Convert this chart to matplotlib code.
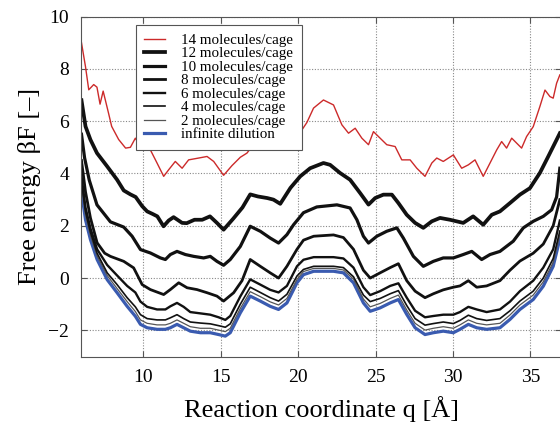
import matplotlib
matplotlib.use("Agg")
import matplotlib.pyplot as plt

plt.rcParams['font.family'] = ['Liberation Serif', 'DejaVu Serif']

# 14 molecules/cage (red)
x14 = [6.0, 6.26, 6.47, 6.79, 7.0, 7.2, 7.4, 7.75, 7.95, 8.4, 8.85, 9.16, 9.48, 9.92, 10.34, 10.88,
       11.31, 11.63, 12.06, 12.5, 12.92, 13.57, 14.11, 14.54, 15.18, 15.72, 16.26, 16.69, 17.01,
       17.44, 17.98, 18.41, 18.84, 19.27, 19.81, 20.13, 20.56, 20.99, 21.63, 22.28, 22.82, 23.25,
       23.68, 24.11, 24.54, 24.86, 25.29, 25.72, 26.26, 26.69, 27.23, 27.66, 28.19, 28.63, 28.95,
       29.37, 30.02, 30.56, 30.99, 31.42, 31.95, 32.39, 32.82, 33.14, 33.46, 33.79, 34.11, 34.43,
       34.75, 35.18, 35.61, 35.94, 36.26, 36.47, 36.69, 36.9]
y14 = [9.0, 8.08, 7.2, 7.4, 7.3, 6.65, 7.15, 6.3, 5.8, 5.3, 4.97, 5.0, 5.35, 4.9, 5.03, 4.4,
       3.89, 4.14, 4.46, 4.2, 4.52, 4.59, 4.65, 4.46, 3.93, 4.3, 4.62, 4.78, 5.03,
       5.16, 5.22, 5.1, 5.03, 5.22, 5.41, 5.57, 5.95, 6.5, 6.81, 6.62, 5.86, 5.54,
       5.73, 5.35, 5.1, 5.6, 5.35, 5.1, 5.03, 4.52, 4.52, 4.2, 3.89, 4.4, 4.59,
       4.46, 4.71, 4.2, 4.33, 4.52, 3.89, 4.4, 4.9, 5.22, 4.97, 5.35, 5.16, 4.97,
       5.41, 5.79, 6.56, 7.19, 6.94, 6.88, 7.45, 7.77]

# 12 molecules/cage
x12 = [6.0, 6.26, 6.58, 7.0, 7.66, 8.3, 8.73, 9.16, 9.5, 9.92, 10.24, 10.6, 10.9, 11.3, 11.63,
       11.95, 12.5, 12.8, 13.3, 13.8, 14.3, 14.75, 15.18, 15.8, 16.4, 16.9, 17.4, 18.0, 18.4,
       18.84, 19.5, 20.13, 20.77, 21.63, 22.06, 22.7, 23.35, 24.0, 24.54, 24.97, 25.5, 26.05,
       26.47, 27.01, 27.55, 28.08, 28.63, 29.16, 29.8, 30.66, 31.3, 31.95, 32.5, 33.03, 33.68,
       34.32, 34.97, 35.61, 36.15, 36.69, 36.9]
y12 = [6.8, 5.8, 5.29, 4.78, 4.27, 3.76, 3.35, 3.2, 3.1, 2.75, 2.55, 2.45, 2.36, 1.98, 2.2,
       2.33, 2.11, 2.1, 2.23, 2.23, 2.36, 2.11, 1.85, 2.27, 2.7, 3.2, 3.12, 3.06, 3.0,
       2.84, 3.45, 3.89, 4.2, 4.4, 4.33, 4.02, 3.76, 3.25, 2.81, 3.06, 3.19, 3.19,
       2.87, 2.42, 2.11, 1.92, 2.17, 2.3, 2.23, 2.11, 2.36, 2.04, 2.42, 2.55, 2.87,
       3.19, 3.44, 4.02, 4.65, 5.29, 5.54]

# 10 molecules/cage
x10 = [6.0, 6.2, 6.5, 7.0, 7.87, 8.73, 9.27, 9.81, 10.45, 11.1, 11.42, 11.74, 12.17, 12.71,
       13.25, 13.89, 14.32, 14.75, 15.18, 15.61, 16.26, 16.9, 17.55, 18.19, 18.73, 19.27, 19.7,
       20.34, 21.2, 22.5, 23.35, 23.79, 24.21, 24.54, 25.08, 25.72, 26.37, 26.79, 27.44, 28.08,
       28.73, 29.37, 30.02, 30.66, 31.21, 31.85, 32.39, 33.03, 33.89, 34.54, 35.18, 35.83,
       36.37, 36.69, 36.9]
y10 = [5.5, 4.6, 3.75, 2.8, 2.15, 1.95, 1.6, 1.09, 0.96, 0.77, 0.71, 0.9, 1.02, 0.9,
       0.83, 0.77, 0.83, 0.64, 0.49, 0.71, 1.21, 1.98, 1.79, 1.53, 1.34, 1.66, 2.04,
       2.5, 2.72, 2.8, 2.68, 2.23, 1.6, 1.34, 1.6, 1.79, 1.92, 1.53, 0.83, 0.45,
       0.64, 0.77, 0.77, 0.9, 1.02, 0.71, 0.9, 1.02, 1.41, 1.92, 2.17, 2.36,
       2.61, 3.1, 4.2]

# 8 molecules/cage
x8 = [6.0, 6.26, 6.58, 7.01, 7.5, 7.87, 8.73, 9.37, 9.92, 10.45, 11.31, 11.74, 12.28, 12.82,
      13.46, 14.11, 14.75, 15.18, 15.83, 16.37, 16.9, 17.55, 18.19, 18.73, 19.27, 19.92, 20.34,
      21.0, 22.28, 22.92, 23.57, 24.21, 24.65, 25.29, 25.94, 26.47, 27.01, 27.55, 28.19, 28.73,
      29.37, 30.02, 30.45, 30.99, 31.53, 32.17, 33.03, 33.68, 34.32, 35.18, 35.83, 36.47, 36.9]
y8 = [4.5, 3.3, 2.3, 1.35, 0.95, 0.83, 0.64, 0.39, -0.25, -0.44, -0.63, -0.44, -0.18, -0.37,
      -0.44, -0.56, -0.69, -0.88, -0.56, -0.1, 0.71, 0.45, 0.2, 0.0, 0.45, 1.1, 1.45,
      1.6, 1.65, 1.55, 1.1, 0.3, 0.0, 0.2, 0.4, 0.55, -0.1, -0.5, -0.75, -0.6,
      -0.45, -0.35, -0.3, -0.1, -0.35, -0.3, -0.1, 0.3, 0.65, 0.95, 1.3, 2.0, 3.0]

# shared abscissa for the four lowest curves
xlow = [6.0, 6.26, 6.58, 7.01, 7.66, 8.3, 8.95, 9.48, 9.81, 10.24, 10.88, 11.42, 11.74, 12.17,
        12.6, 13.03, 13.68, 14.32, 14.86, 15.29, 15.61, 16.26, 16.9, 17.55, 18.19, 18.73, 19.27,
        19.92, 20.34, 21.0, 22.28, 22.92, 23.57, 24.21, 24.65, 25.29, 25.94, 26.47, 27.01, 27.55,
        28.19, 28.73, 29.37, 30.02, 30.45, 30.99, 31.53, 32.17, 33.03, 33.68, 34.32, 35.18, 35.83,
        36.47, 36.9]
y6 = [3.9, 2.7, 1.9, 1.1, 0.5, 0.1, -0.3, -0.55, -0.9, -1.1, -1.2, -1.2, -1.08, -0.95,
      -1.1, -1.3, -1.35, -1.4, -1.5, -1.6, -1.45, -0.7, -0.05, -0.25, -0.45, -0.55, -0.3,
      0.45, 0.7, 0.8, 0.8, 0.75, 0.4, -0.35, -0.65, -0.5, -0.3, -0.2, -0.75, -1.25,
      -1.5, -1.45, -1.4, -1.4, -1.3, -1.1, -1.2, -1.3, -1.2, -0.9, -0.5, -0.1, 0.4,
      1.1, 2.2]
y4 = [3.7, 2.55, 1.75, 0.95, 0.2, -0.25, -0.75, -1.1, -1.4, -1.55, -1.6, -1.6, -1.52, -1.4,
      -1.55, -1.68, -1.72, -1.75, -1.82, -1.88, -1.75, -1.0, -0.35, -0.55, -0.75, -0.88, -0.62,
      0.08, 0.33, 0.45, 0.45, 0.4, 0.05, -0.65, -0.9, -0.78, -0.6, -0.48, -1.05, -1.55,
      -1.8, -1.74, -1.68, -1.74, -1.62, -1.42, -1.55, -1.62, -1.55, -1.25, -0.88, -0.5, 0.0,
      0.75, 1.8]
y2 = [3.5, 2.4, 1.62, 0.85, 0.1, -0.4, -0.9, -1.28, -1.6, -1.73, -1.79, -1.79, -1.73, -1.6,
      -1.73, -1.86, -1.92, -1.92, -1.99, -2.05, -1.92, -1.16, -0.52, -0.71, -0.91, -1.03, -0.78,
      -0.05, 0.25, 0.37, 0.37, 0.31, -0.04, -0.8, -1.1, -0.97, -0.78, -0.65, -1.22, -1.73,
      -1.99, -1.92, -1.86, -1.92, -1.79, -1.6, -1.73, -1.79, -1.73, -1.41, -1.03, -0.65, -0.14,
      0.6, 1.65]
yinf = [3.3, 2.23, 1.47, 0.71, -0.06, -0.56, -1.08, -1.46, -1.77, -1.9, -1.96, -1.96, -1.9, -1.77,
        -1.9, -2.03, -2.09, -2.09, -2.16, -2.22, -2.09, -1.33, -0.69, -0.88, -1.08, -1.2, -0.95,
        -0.18, 0.13, 0.26, 0.26, 0.2, -0.18, -0.95, -1.27, -1.14, -0.95, -0.82, -1.39, -1.9,
        -2.16, -2.09, -2.03, -2.09, -1.96, -1.77, -1.9, -1.96, -1.9, -1.58, -1.2, -0.82, -0.31,
        0.45, 1.5]

fig = plt.figure(figsize=(5.6, 4.26), dpi=100)
ax = fig.add_axes([0.1455, 0.1631, 0.857, 0.798])

l_inf, = ax.plot(xlow, yinf, color='#3a5bb0', lw=2.3, label='infinite dilution')
l2, = ax.plot(xlow, y2, color='#555555', lw=0.9, label='2 molecules/cage')
l4, = ax.plot(xlow, y4, color='#111111', lw=1.2, label='4 molecules/cage')
l6, = ax.plot(xlow, y6, color='#111111', lw=1.7, label='6 molecules/cage')
l8, = ax.plot(x8, y8, color='#111111', lw=2.0, label='8 molecules/cage')
l10, = ax.plot(x10, y10, color='#111111', lw=2.3, label='10 molecules/cage')
l12, = ax.plot(x12, y12, color='#111111', lw=2.7, label='12 molecules/cage')
l14, = ax.plot(x14, y14, color='#cc2a2a', lw=1.0, label='14 molecules/cage')

ax.set_xlim(6, 37)
ax.set_ylim(-3, 10)
ax.set_xticks([10, 15, 20, 25, 30, 35])
ax.set_yticks([-2, 0, 2, 4, 6, 8, 10])
ax.grid(True, color='#888888', linestyle=(0, (1, 1.5)), linewidth=0.8)
ax.tick_params(direction='in', top=True, right=True, length=4, labelsize=14, pad=9,
               color='#555555')
for s in ax.spines.values():
    s.set_color('#555555')

ax.set_xlabel('Reaction coordinate q [Å]', fontsize=19, labelpad=7)
ax.set_ylabel('Free energy βF [–]', fontsize=19, labelpad=5)

leg = ax.legend(handles=[l14, l12, l10, l8, l6, l4, l2, l_inf], loc='upper left',
                bbox_to_anchor=(0.113, 0.975), borderaxespad=0, fontsize=10.8,
                labelspacing=0.0, handlelength=1.4, handletextpad=1.1, borderpad=0.55,
                fancybox=False, framealpha=1, edgecolor='#555555')
leg.get_frame().set_linewidth(0.8)

fig.savefig('out.png', dpi=100)
